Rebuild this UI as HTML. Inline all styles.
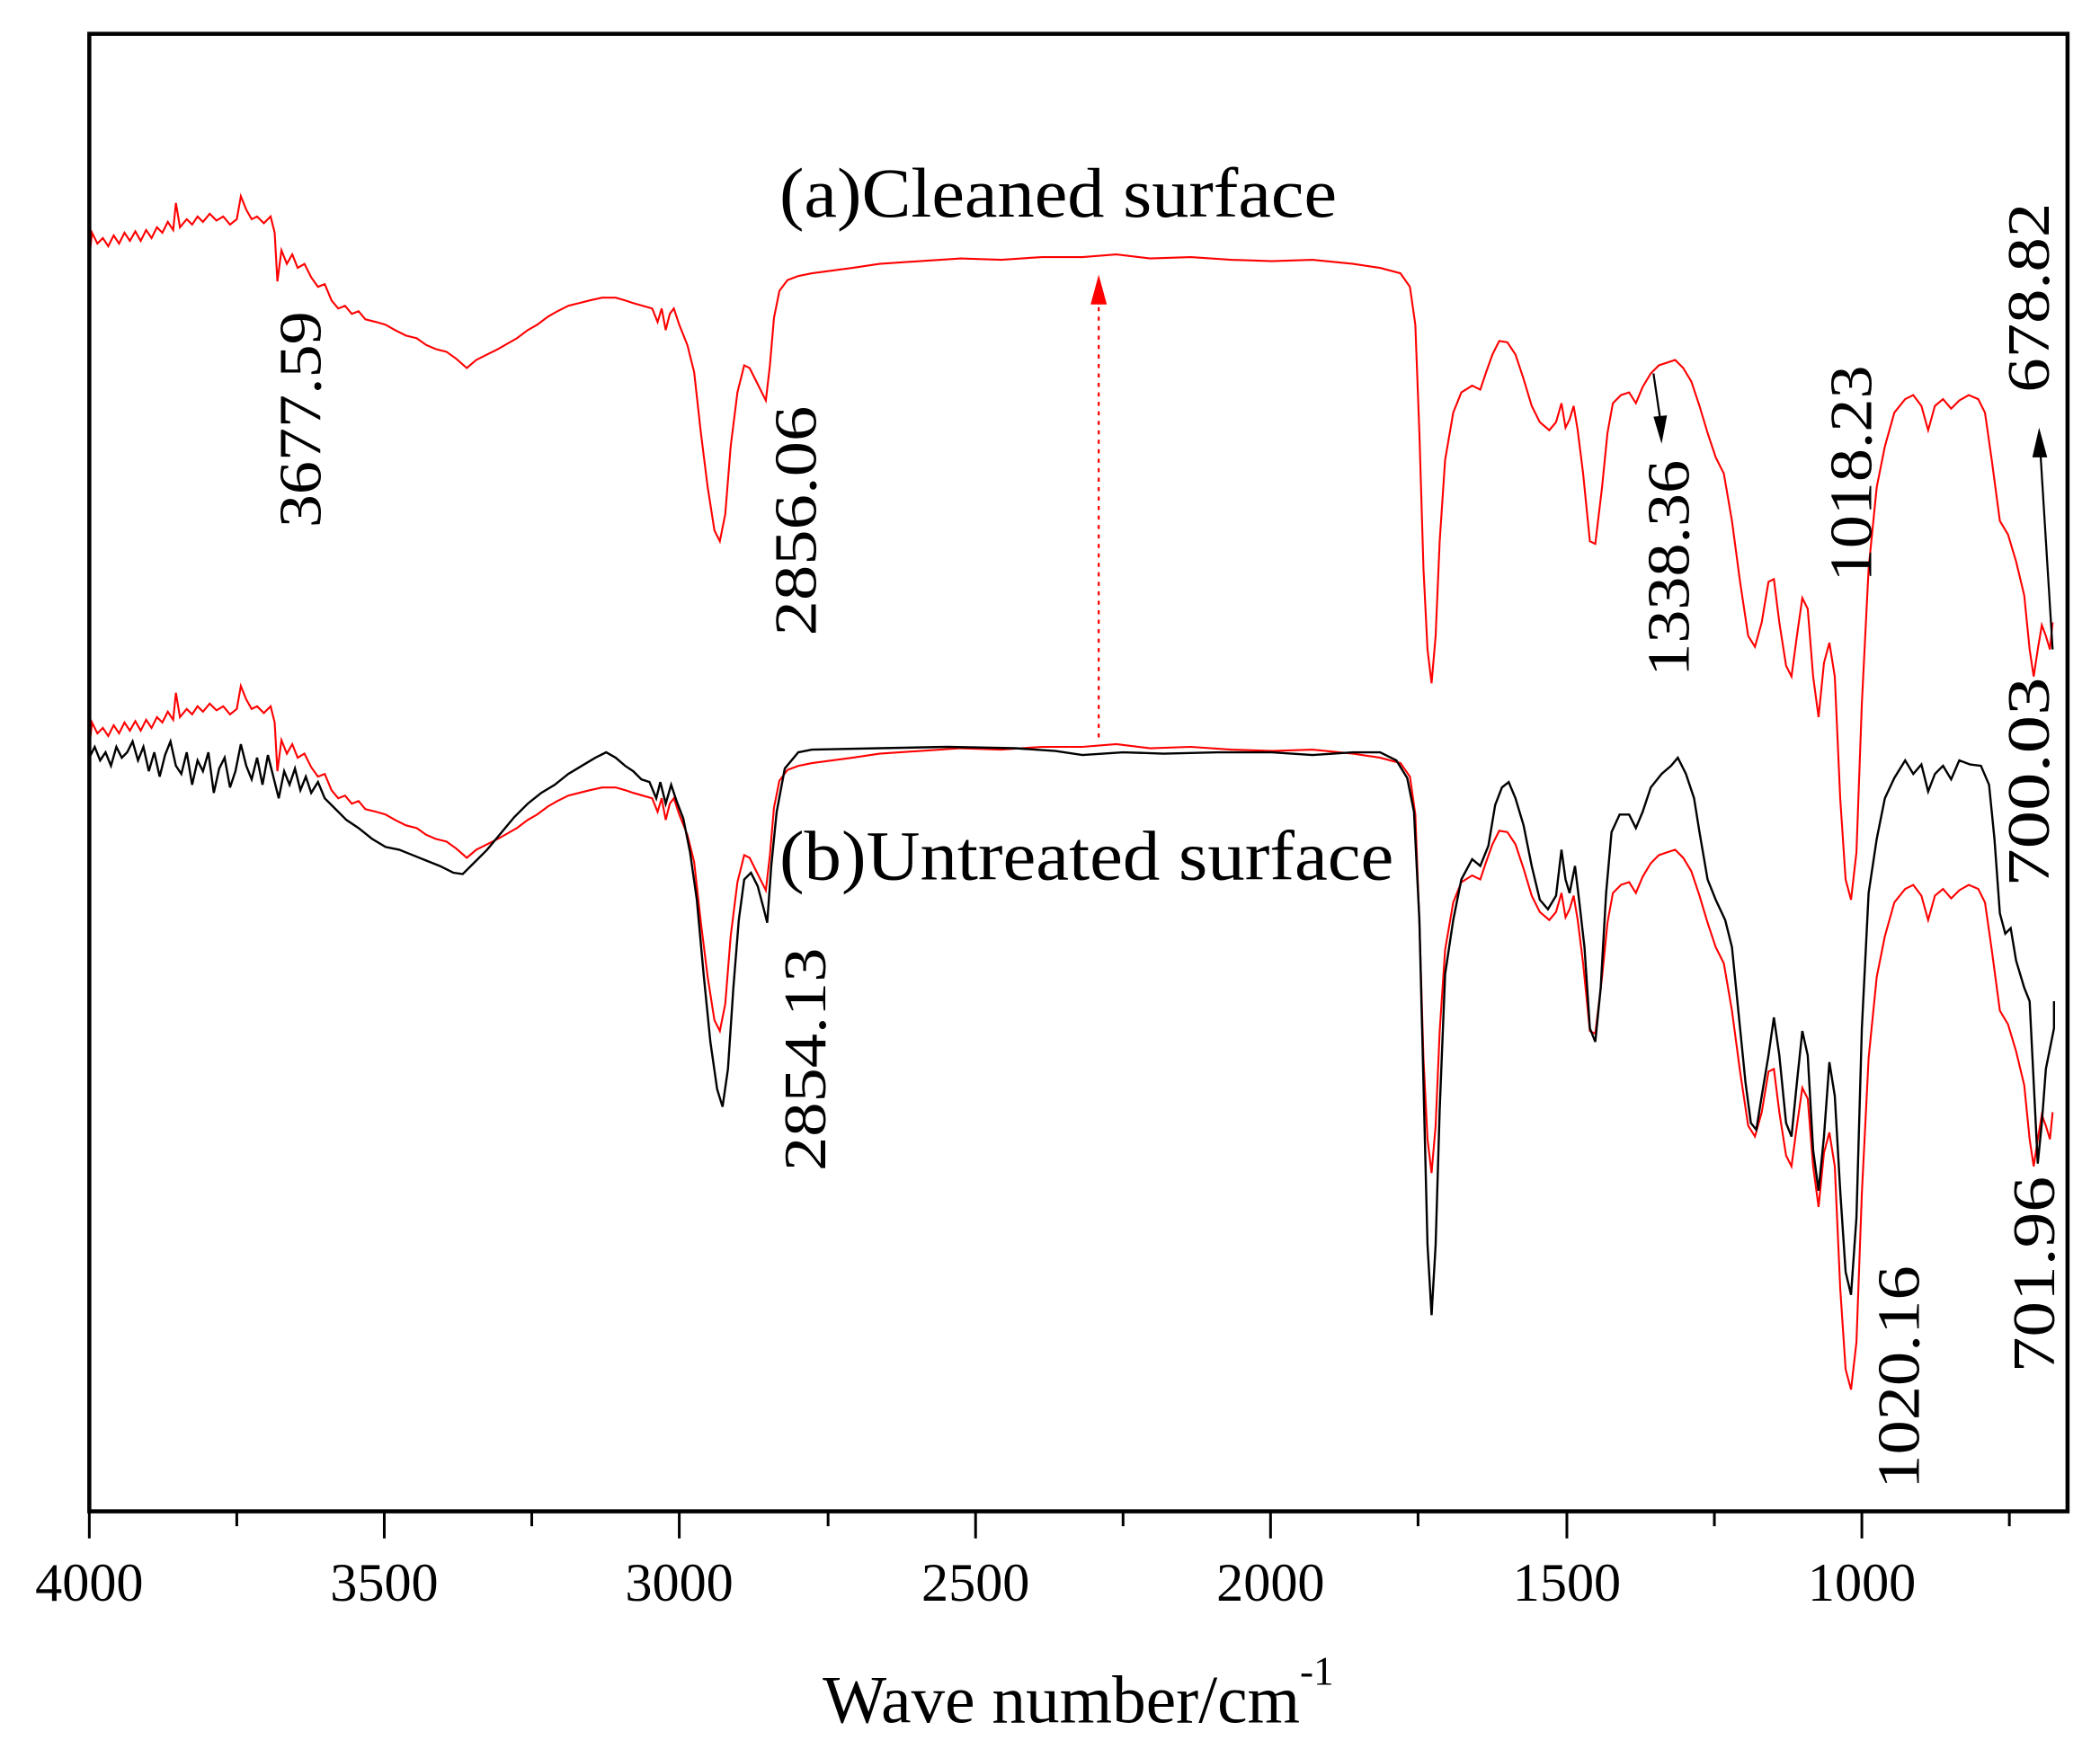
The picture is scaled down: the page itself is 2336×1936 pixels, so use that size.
<!DOCTYPE html>
<html><head><meta charset="utf-8"><style>html,body{margin:0;padding:0;background:#fff}svg{display:block}</style></head>
<body>
<svg width="2336" height="1936" viewBox="0 0 1552 1286" preserveAspectRatio="none" xmlns="http://www.w3.org/2000/svg" font-family="'Liberation Serif', serif">
<rect x="0" y="0" width="1552" height="1286" fill="#fff"/>
<defs>
<path id="red" fill="none" stroke="#f00" stroke-width="1.4" d="M66,190 L68,172 L72,180 L76,176 L80,182 L84,174 L88,180 L92,172 L96,178 L100,171 L104,178 L108,170 L112,176 L116,168 L120,172 L124,164 L128,170 L130,150 L133,168 L138,162 L142,166 L146,160 L150,164 L155,158 L160,163 L165,160 L170,166 L175,162 L178,145 L182,155 L186,162 L190,160 L195,165 L200,160 L203,172 L205,208 L208,185 L212,195 L216,188 L220,198 L225,195 L230,205 L235,212 L240,210 L245,222 L250,228 L255,226 L260,232 L265,230 L270,236 L278,238 L285,240 L292,244 L300,248 L308,250 L315,255 L322,258 L330,260 L337,265 L345,272 L352,266 L360,262 L368,258 L375,254 L382,250 L390,244 L397,240 L405,234 L412,230 L420,226 L428,224 L436,222 L445,220 L455,220 L462,222 L468,224 L475,226 L482,228 L486,238 L489,228 L492,244 L495,232 L498,228 L502,240 L508,255 L513,275 L518,320 L523,360 L528,392 L532,400 L536,380 L540,330 L545,290 L550,270 L554,272 L558,280 L562,288 L566,296 L569,270 L572,235 L576,215 L582,207 L590,204 L600,202 L615,200 L630,198 L650,195 L680,193 L710,191 L740,192 L770,190 L800,190 L825,188 L850,191 L880,190 L910,192 L940,193 L970,192 L1000,195 L1020,198 L1035,202 L1042,212 L1046,240 L1049,320 L1052,420 L1055,480 L1058,505 L1061,470 L1064,400 L1068,340 L1074,305 L1080,290 L1088,285 L1094,288 L1098,276 L1103,262 L1108,252 L1114,253 L1120,262 L1126,280 L1132,300 L1138,312 L1145,318 L1150,312 L1154,298 L1157,316 L1160,310 L1163,300 L1166,318 L1170,350 L1175,400 L1179,402 L1184,360 L1188,320 L1192,298 L1198,292 L1204,290 L1209,298 L1214,286 L1220,276 L1226,270 L1232,268 L1238,266 L1244,272 L1250,282 L1256,300 L1262,320 L1268,338 L1274,350 L1280,385 L1286,430 L1292,470 L1297,478 L1302,460 L1307,430 L1311,428 L1315,460 L1320,492 L1324,500 L1328,470 L1332,442 L1336,450 L1340,500 L1344,530 L1348,490 L1352,475 L1356,500 L1360,590 L1364,650 L1368,665 L1372,630 L1376,520 L1381,420 L1387,360 L1393,330 L1400,305 L1408,295 L1414,292 L1420,300 L1425,318 L1430,300 L1436,295 L1442,302 L1448,296 L1455,292 L1462,295 L1467,305 L1472,340 L1478,385 L1484,395 L1490,415 L1496,440 L1500,480 L1503,500 L1506,480 L1509,462 L1512,470 L1515,480 L1517,460"/>
</defs>
<use href="#red"/>
<use href="#red" transform="translate(0,362)"/>
<path fill="none" stroke="#000" stroke-width="1.6" d="M66,560 L70,552 L74,562 L78,556 L82,566 L86,552 L90,560 L94,556 L98,548 L102,562 L106,552 L110,570 L114,556 L118,574 L122,558 L126,548 L130,566 L134,572 L138,556 L142,580 L146,562 L150,570 L154,556 L158,586 L162,568 L166,560 L170,582 L174,570 L178,550 L182,566 L186,576 L190,560 L194,580 L198,558 L202,574 L206,590 L210,570 L214,580 L218,568 L222,584 L226,574 L230,586 L235,578 L240,590 L248,598 L256,606 L265,612 L275,620 L285,626 L295,628 L305,632 L315,636 L325,640 L335,645 L342,646 L350,638 L360,628 L370,616 L380,604 L390,594 L400,586 L410,580 L420,572 L430,566 L440,560 L448,556 L455,560 L462,566 L468,570 L474,576 L480,578 L485,590 L488,578 L492,594 L496,580 L500,592 L505,605 L510,630 L515,665 L520,720 L525,770 L530,805 L534,818 L538,790 L542,730 L546,680 L550,650 L555,645 L560,655 L564,670 L567,682 L570,640 L574,600 L580,568 L590,556 L600,554 L650,553 L700,552 L750,553 L780,555 L800,558 L830,556 L860,557 L900,556 L940,556 L970,558 L1000,556 L1020,556 L1032,562 L1040,575 L1045,600 L1049,680 L1052,800 L1055,920 L1058,972 L1061,920 L1064,820 L1068,720 L1074,680 L1080,650 L1088,635 L1094,640 L1100,625 L1105,595 L1110,582 L1115,578 L1120,590 L1126,610 L1132,640 L1138,665 L1144,672 L1150,662 L1154,628 L1157,650 L1160,660 L1164,640 L1167,665 L1171,700 L1175,760 L1179,770 L1183,730 L1187,660 L1191,615 L1197,602 L1204,602 L1209,612 L1214,600 L1220,582 L1228,572 L1235,566 L1240,560 L1246,572 L1252,590 L1256,615 L1262,650 L1268,665 L1275,680 L1280,700 L1285,750 L1290,800 L1294,830 L1298,835 L1302,810 L1307,780 L1311,752 L1315,780 L1320,830 L1324,840 L1328,800 L1332,762 L1336,780 L1340,850 L1344,880 L1348,840 L1352,785 L1356,810 L1360,880 L1364,940 L1368,957 L1372,900 L1376,760 L1381,660 L1387,620 L1393,590 L1400,575 L1408,562 L1414,572 L1420,565 L1425,585 L1430,572 L1436,566 L1442,576 L1448,562 L1456,565 L1464,566 L1470,580 L1474,620 L1478,675 L1482,690 L1486,686 L1490,710 L1496,730 L1500,740 L1503,800 L1506,860 L1509,830 L1512,790 L1515,775 L1518,760 L1518,740"/>
<!-- frame -->
<rect x="66" y="25" width="1462" height="1092" fill="none" stroke="#000" stroke-width="3"/>
<g stroke="#000" stroke-width="2">
<line x1="66" y1="1117" x2="66" y2="1137"/><line x1="284" y1="1117" x2="284" y2="1137"/><line x1="502" y1="1117" x2="502" y2="1137"/><line x1="721" y1="1117" x2="721" y2="1137"/><line x1="939" y1="1117" x2="939" y2="1137"/><line x1="1158" y1="1117" x2="1158" y2="1137"/><line x1="1376" y1="1117" x2="1376" y2="1137"/>
<line x1="175" y1="1117" x2="175" y2="1128"/><line x1="393" y1="1117" x2="393" y2="1128"/><line x1="612" y1="1117" x2="612" y2="1128"/><line x1="830" y1="1117" x2="830" y2="1128"/><line x1="1048" y1="1117" x2="1048" y2="1128"/><line x1="1267" y1="1117" x2="1267" y2="1128"/><line x1="1485" y1="1117" x2="1485" y2="1128"/>
</g>
<g font-size="40" text-anchor="middle" fill="#000">
<text x="66" y="1183">4000</text><text x="284" y="1183">3500</text><text x="502" y="1183">3000</text><text x="721" y="1183">2500</text><text x="939" y="1183">2000</text><text x="1158" y="1183">1500</text><text x="1376" y="1183">1000</text>
</g>
<text x="608" y="1273" font-size="50">Wave number/cm<tspan font-size="30" dy="-28">-1</tspan></text>
<text x="576" y="160" font-size="52" textLength="412" lengthAdjust="spacingAndGlyphs">(a)Cleaned surface</text>
<text x="576" y="650" font-size="52" textLength="454" lengthAdjust="spacingAndGlyphs">(b)Untreated surface</text>
<g font-size="44" text-anchor="middle" fill="#000">
<text transform="translate(237,310) rotate(-90)" textLength="160" lengthAdjust="spacingAndGlyphs">3677.59</text>
<text transform="translate(603,385) rotate(-90)" textLength="170" lengthAdjust="spacingAndGlyphs">2856.06</text>
<text transform="translate(1248,420) rotate(-90)" textLength="160" lengthAdjust="spacingAndGlyphs">1338.36</text>
<text transform="translate(1383,350) rotate(-90)" textLength="160" lengthAdjust="spacingAndGlyphs">1018.23</text>
<text transform="translate(1514,220) rotate(-90)" textLength="140" lengthAdjust="spacingAndGlyphs">678.82</text>
<text transform="translate(1514,578) rotate(-90)" textLength="155" lengthAdjust="spacingAndGlyphs">700.03</text>
<text transform="translate(610,783) rotate(-90)" textLength="165" lengthAdjust="spacingAndGlyphs">2854.13</text>
<text transform="translate(1418,1018) rotate(-90)" textLength="165" lengthAdjust="spacingAndGlyphs">1020.16</text>
<text transform="translate(1518,942) rotate(-90)" textLength="145" lengthAdjust="spacingAndGlyphs">701.96</text>
</g>
<line x1="812" y1="545" x2="812" y2="225" stroke="#f00" stroke-width="1.5" stroke-dasharray="3,4"/>
<polygon points="812,203 806,225 818,225" fill="#f00"/>
<line x1="1222" y1="276" x2="1227" y2="310" stroke="#000" stroke-width="1.5"/>
<polygon points="1228,328 1222,308 1232,307" fill="#000"/>
<line x1="1517" y1="480" x2="1508" y2="335" stroke="#000" stroke-width="1.5"/>
<polygon points="1507,316 1502,338 1513,338" fill="#000"/>
</svg>
</body></html>
